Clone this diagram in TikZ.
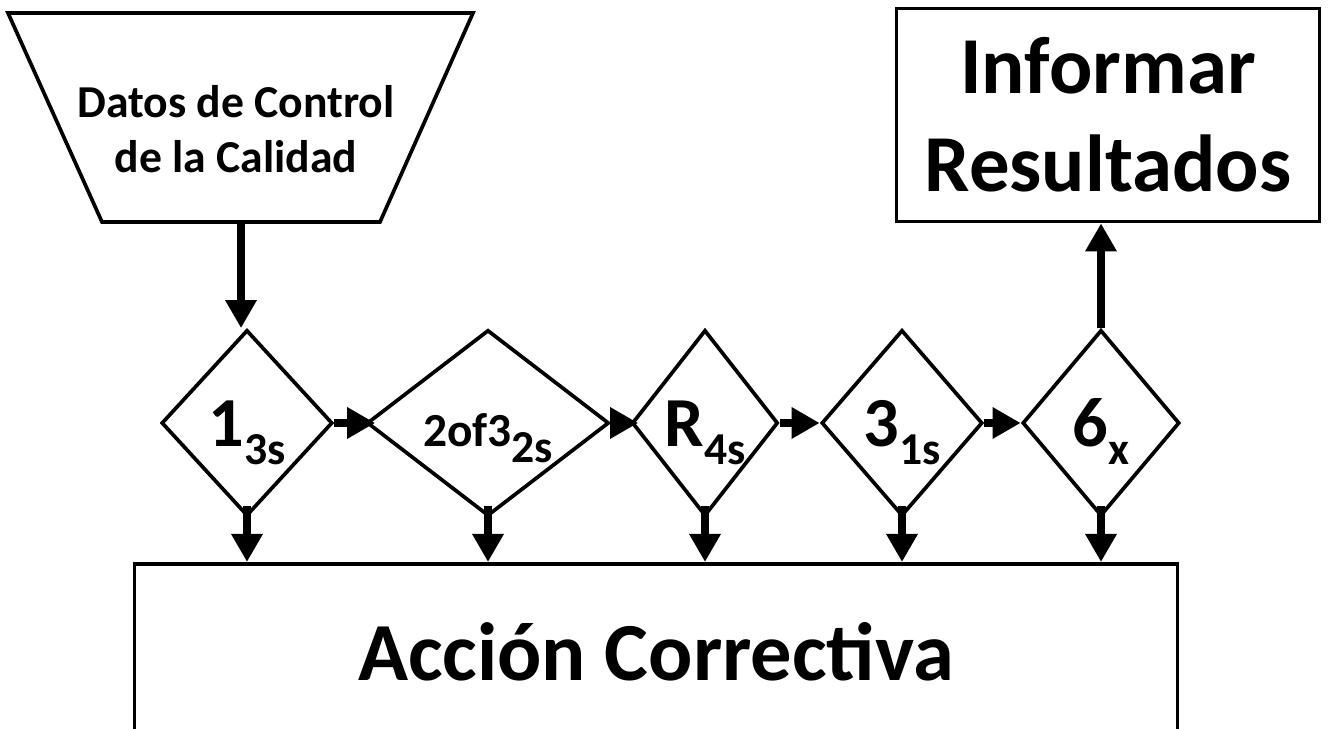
\documentclass[tikz,border=0pt]{standalone}
\usepackage{fontspec}
\setmainfont{Carlito}
\usepackage{tikz}
\usetikzlibrary{arrows.meta,positioning,calc,shapes.geometric}
\newlength{\pxu}
\setlength{\pxu}{0.02cm}
\newcommand{\rulesub}[3]{#1\raisebox{-#3}{\fontsize{26}{26}\selectfont #2}}

\begin{document}
\begin{tikzpicture}[x=\pxu,y=\pxu,font=\bfseries,
    box/.style={draw,line width=2.1pt,rectangle,inner sep=0pt},
    rule/.style={draw,line width=2.1pt,diamond,inner sep=0pt,text depth=0pt,text height=27pt,
      minimum height=186\pxu,font=\bfseries\fontsize{40}{40}\selectfont},
    flow/.style={line width=5pt,-{Triangle[length=16pt,width=17pt]}}]
  \useasboundingbox (0,0) rectangle (1336,729);
  \clip (0,0) rectangle (1336,729);
  % input data
  \draw[line width=2.1pt,line join=miter] (8,716) -- (473,716) -- (380,507) -- (102,507) -- cycle;
  \node[align=center,font=\bfseries\fontsize{26}{31}\selectfont] (datos) at (236,600)
    {Datos de Control\\de la Calidad};
  \coordinate (datosb) at (241,507);
  % rules
  \node[rule,minimum width=171\pxu] (d1) at (247,306) {\rulesub{1}{3s}{10pt}};
  \node[rule,minimum width=242\pxu,font=\bfseries\fontsize{27}{27}\selectfont] (d2) at (488,306)
    {\rulesub{2of3}{2s}{9pt}};
  \node[rule,minimum width=146\pxu] (d3) at (705,306) {\rulesub{R}{4s}{10pt}};
  \node[rule,minimum width=161\pxu] (d4) at (902,306) {\rulesub{3}{1s}{10pt}};
  \node[rule,minimum width=157\pxu] (d5) at (1101,306) {\rulesub{6}{x}{10pt}};
  % outputs
  \node[box,minimum width=423\pxu,minimum height=213\pxu,align=center,
    font=\bfseries\fontsize{46}{56}\selectfont] (inf) at (1108,614) {Informar\\Resultados};
  \node[box,minimum width=1043\pxu,minimum height=176\pxu,anchor=north,
    font=\bfseries\fontsize{47}{47}\selectfont] (accion) at (656,167) {Acción Correctiva};
  % connectors
  \draw[flow] (datosb) -- (datosb |- d1.north);
  \draw[flow] (d1.east) -- ($(d2.west)+(10,0)$);
  \draw[flow] (d2.east) -- ($(d3.west)+(8,0)$);
  \draw[flow] (d3.east) -- (d4.west);
  \draw[flow] (d4.east) -- (d5.west);
  \draw[flow] (d5.north) -- (d5.north |- inf.south);
  \foreach \d in {d1,d2,d3,d4,d5} {
    \draw[flow] ($(\d.south)+(0,12)$) -- (\d.south |- accion.north);
  }
\end{tikzpicture}
\end{document}
